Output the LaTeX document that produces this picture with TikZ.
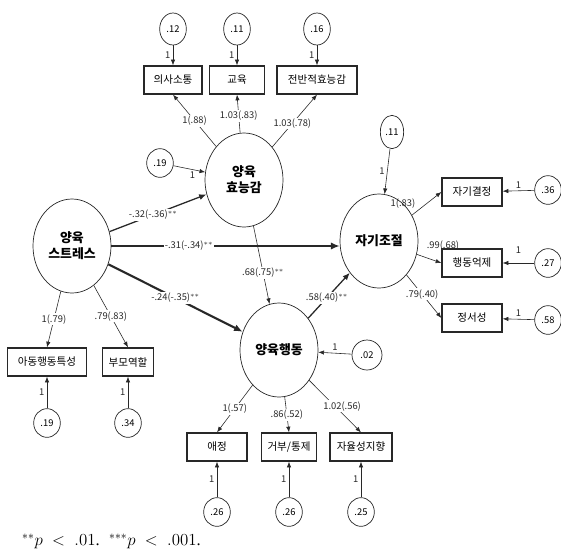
\documentclass[tikz,border=0pt]{standalone}
\usepackage{fontspec}
\setmainfont{Liberation Serif}
\newfontfamily\kr{Noto Sans CJK KR}
\usepackage{tikz}
\usetikzlibrary{shapes.geometric, arrows.meta, positioning, calc}
\definecolor{mydark}{RGB}{40,40,40}
\tikzset{
  latent/.style={ellipse, draw=mydark, line width=0.6pt, align=center,
    minimum width=23.4mm, minimum height=28.2mm, inner sep=1pt,
    font=\kr\bfseries\fontsize{11}{13.5}\selectfont},
  obs/.style={rectangle, draw=mydark, line width=1.1pt, minimum height=8.4mm,
    inner sep=1pt, font=\kr\fontsize{9}{10}\selectfont},
  errc/.style={ellipse, draw=mydark, line width=0.6pt, minimum width=8mm,
    minimum height=8.6mm, inner sep=0pt, font=\kr\fontsize{8}{9}\selectfont},
  lbl/.style={fill=white, inner sep=1pt, font=\kr\fontsize{8}{9}\selectfont},
  one/.style={inner sep=2pt, font=\kr\fontsize{8}{9}\selectfont},
  arrow/.style={-{Latex[length=1.7mm,width=1.3mm]}, line width=0.5pt, color=mydark},
  midarrow/.style={-{Latex[length=2.2mm,width=1.8mm]}, line width=1.1pt, color=mydark},
  bigarrow/.style={-{Latex[length=2.6mm,width=2.2mm]}, line width=1.8pt, color=mydark}
}

\begin{document}
\begin{tikzpicture}[x=0.3mm, y=-0.3mm]
  \useasboundingbox (0,0) rectangle (561,556);
  % latent variables
  \node[latent] (stress) at (72,246) {양육\\스트레스};
  \node[latent] (eff) at (244,180) {양육\\효능감};
  \node[latent] (selfreg) at (379,241) {자기조절};
  \node[latent] (behav) at (279,350) {양육행동};
  % indicators
  \node[obs, minimum width=17.4mm] (comm) at (173,80) {의사소통};
  \node[obs, minimum width=16.5mm] (educ) at (237,80) {교육};
  \node[obs, minimum width=24mm] (overall) at (317,80) {전반적효능감};
  \node[obs, minimum width=18mm] (selfdet) at (472,192) {자기결정};
  \node[obs, minimum width=18mm] (behinh) at (472,263) {행동억제};
  \node[obs, minimum width=18mm] (emot) at (472,318) {정서성};
  \node[obs, minimum width=23.7mm] (childchar) at (47,362) {아동행동특성};
  \node[obs, minimum width=15.3mm] (parrole) at (128,362) {부모역할};
  \node[obs, minimum width=18mm] (affect) at (217,447) {애정};
  \node[obs, minimum width=16.5mm] (reject) at (289,447) {거부/통제};
  \node[obs, minimum width=18.6mm] (autonomy) at (361,447) {자율성지향};
  % errors
  \node[errc, minimum height=9.6mm] (e1) at (173,29) {.12};
  \node[errc, minimum height=9.6mm] (e2) at (237,29) {.11};
  \node[errc, minimum height=9.6mm] (e3) at (317,29) {.16};
  \node[errc, minimum width=7mm, minimum height=10mm] (d2) at (392,132) {.11};
  \node[errc] (d1) at (160,163) {.19};
  \node[errc] (e4) at (548,190) {.36};
  \node[errc] (e5) at (548,263) {.27};
  \node[errc] (e6) at (548,320) {.58};
  \node[errc, minimum width=9mm, minimum height=9mm] (d3) at (367,355) {.02};
  \node[errc] (e7) at (47,423) {.19};
  \node[errc] (e8) at (128,423) {.34};
  \node[errc] (e9) at (217,512) {.26};
  \node[errc] (e10) at (289,512) {.26};
  \node[errc] (e11) at (361,512) {.25};

  % structural paths
  \draw[midarrow] (stress) -- node[lbl, pos=0.45] {-.32(-.36)$^{**}$} (eff);
  \draw[bigarrow] (stress.east) -- node[lbl, pos=0.34] {-.31(-.34)$^{**}$} (stress.east -| selfreg.west);
  \draw[bigarrow] (stress) -- node[lbl, pos=0.5] {-.24(-.35)$^{**}$} (behav);
  \draw[arrow] (eff) -- node[lbl, pos=0.6] {.68(.75)$^{**}$} (behav);
  \draw[midarrow] (behav) -- node[lbl, pos=0.45] {.58(.40)$^{**}$} (selfreg);

  % loadings
  \draw[arrow] (eff) -- node[lbl, pos=0.5] {1(.88)} (comm.south);
  \draw[arrow] (eff) -- node[lbl, pos=0.45] {1.03(.83)} (educ.south);
  \draw[arrow] (eff) -- node[lbl, pos=0.45] {1.03(.78)} (overall.south);
  \draw[arrow] (selfreg) -- node[one, pos=0.2, above left] {1(.83)} (selfdet.west);
  \draw[arrow] (selfreg) -- node[one, pos=0.3, anchor=south west, yshift=3pt] {.99(.68)} (behinh.west);
  \draw[arrow] (selfreg) -- node[lbl, pos=0.45] {.79(.40)} (emot.west);
  \draw[arrow] (stress) -- node[lbl, pos=0.5] {1(.79)} (childchar.north);
  \draw[arrow] (stress) -- node[lbl, pos=0.5] {.79(.83)} (parrole.north);
  \draw[arrow] (behav) -- node[lbl, pos=0.5] {1(.57)} (affect.north);
  \draw[arrow] (behav) -- node[lbl, pos=0.5] {.86(.52)} (reject.north);
  \draw[arrow] (behav) -- node[lbl, pos=0.5, xshift=6pt] {1.02(.56)} (autonomy.north);

  % error paths
  \draw[arrow] (e1) -- node[one, left] {1} (comm);
  \draw[arrow] (e2) -- node[one, left] {1} (educ);
  \draw[arrow] (e3) -- node[one, left] {1} (overall);
  \draw[arrow] (d1) -- node[one, below, pos=0.6] {1} (eff);
  \draw[arrow] (d2) -- node[one, left] {1} (selfreg);
  \draw[arrow] (d3) -- node[one, above] {1} (behav);
  \draw[arrow] (e4) -- node[one, above] {1} (selfdet);
  \draw[arrow] (e5) -- node[one, above, yshift=6pt] {1} (behinh);
  \draw[arrow] (e6) -- node[one, above] {1} (emot);
  \draw[arrow] (e7) -- node[one, left] {1} (childchar);
  \draw[arrow] (e8) -- node[one, left] {1} (parrole);
  \draw[arrow] (e9) -- node[one, left] {1} (affect);
  \draw[arrow] (e10) -- node[one, left] {1} (reject);
  \draw[arrow] (e11) -- node[one, left] {1} (autonomy);

  % note
  \node[anchor=west, inner sep=0pt, font=\fontsize{14}{16}\selectfont] (note) at (22,541)
    {$^{**}p\;<\;.01$.~ $^{***}p\;<\;.001$.};
\end{tikzpicture}
\end{document}
